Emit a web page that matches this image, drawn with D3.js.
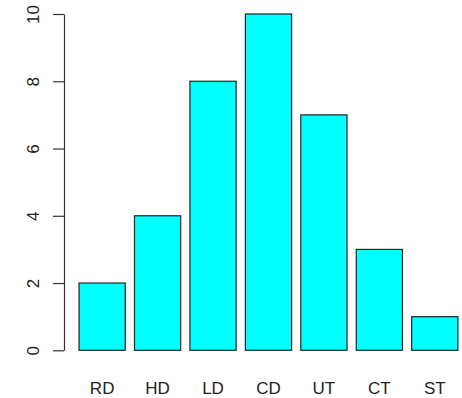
<!DOCTYPE html>
<html>
<head>
<meta charset="utf-8">
<script src="https://cdn.jsdelivr.net/npm/d3@7"></script>
<style>
  html, body { margin: 0; padding: 0; background: #fff; }
  svg { display: block; }
  text { font-family: "Liberation Sans", Arial, sans-serif; fill: #222; }
</style>
</head>
<body>
<svg id="chart" width="462" height="398"></svg>
<script>
// Category counts
const categories = ["RD", "HD", "LD", "CD", "UT", "CT", "ST"];
const counts = [2, 4, 8, 10, 7, 3, 1];
const yTicks = [0, 2, 4, 6, 8, 10];

// Bar layout in user units: width 1, gap 0.2
const barWidth = 1, barSpace = 0.2;
const step = barWidth + barSpace;

const svg = d3.select("#chart");

const x = d3.scaleLinear()
  .domain([0, categories.length * step])
  .range([69.8, 457.9]);

const y = d3.scaleLinear()
  .domain([0, 10])
  .range([350.3, 14]);

// Bars
svg.append("g")
  .selectAll("rect")
  .data(counts)
  .join("rect")
  .attr("x", (d, i) => x(barSpace + i * step))
  .attr("width", (d, i) => x(barSpace + i * step + barWidth) - x(barSpace + i * step))
  .attr("y", d => y(d))
  .attr("height", d => y(0) - y(d))
  .attr("fill", "#00ffff")
  .attr("stroke", "#222")
  .attr("stroke-width", 1.2);

// Y axis with rotated tick labels
const yAxis = d3.axisLeft(y)
  .tickValues(yTicks)
  .tickSize(11)
  .tickPadding(0)
  .tickSizeOuter(0);

const gy = svg.append("g")
  .attr("transform", "translate(64,0)")
  .call(yAxis);
gy.select(".domain").attr("stroke", "#333").attr("stroke-width", 1.2);
gy.selectAll(".tick line").attr("stroke", "#333").attr("stroke-width", 1.2);
gy.selectAll(".tick text")
  .attr("x", null)
  .attr("dy", null)
  .attr("text-anchor", "middle")
  .attr("transform", "translate(-25,0) rotate(-90)")
  .style("font-size", "17px")
  .style("font-family", "'Liberation Sans', Arial, sans-serif")
  .attr("fill", "#222");

// Category labels under each bar
svg.append("g")
  .selectAll("text")
  .data(categories)
  .join("text")
  .attr("x", (d, i) => x(barSpace + i * step + barWidth / 2))
  .attr("y", 394)
  .attr("text-anchor", "middle")
  .style("font-size", "17px")
  .text(d => d);
</script>
</body>
</html>
